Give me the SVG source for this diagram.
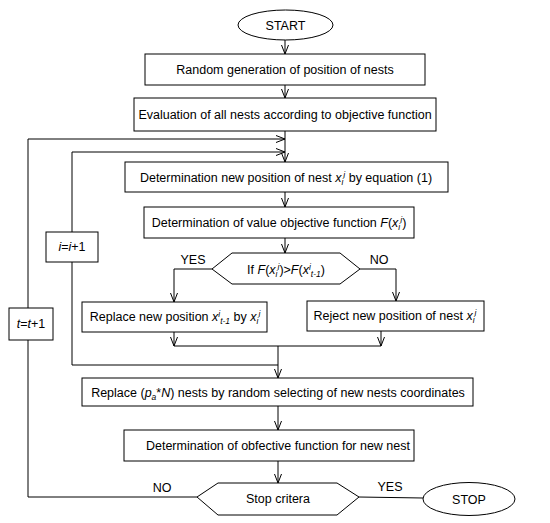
<svg xmlns="http://www.w3.org/2000/svg" width="550" height="523" viewBox="0 0 550 523">
<defs>
<marker id="ar" viewBox="0 0 10 10" refX="10" refY="5" markerWidth="10" markerHeight="10" markerUnits="userSpaceOnUse" orient="auto">
<path d="M1,1.5 L10,5 L1,8.5" fill="none" stroke="#000" stroke-width="1"/>
</marker>
</defs>
<style>
.b{fill:#fff;stroke:#000;stroke-width:1}
.c{fill:none;stroke:#000;stroke-width:1}
text{font-family:"Liberation Sans",Arial,sans-serif;font-size:12.5px;fill:#000}
.m{text-anchor:middle}
.i{font-style:italic}
.s{font-size:8.5px}
</style>
<rect width="550" height="523" fill="#fff"/>
<g id="connectors">
<line class="c" x1="285" y1="40" x2="285" y2="54" marker-end="url(#ar)"/>
<line class="c" x1="285" y1="85" x2="285" y2="98" marker-end="url(#ar)"/>
<line class="c" x1="285" y1="131" x2="285" y2="162" marker-end="url(#ar)"/>
<polyline class="c" points="197,497 28,497 28,139 285,139" marker-end="url(#ar)"/>
<polyline class="c" points="72,232 72,152 285,152" marker-end="url(#ar)"/>
<line class="c" x1="285" y1="192" x2="285" y2="207" marker-end="url(#ar)"/>
<line class="c" x1="285" y1="238" x2="285" y2="253" marker-end="url(#ar)"/>
<polyline class="c" points="212,269 174,269 174,302" marker-end="url(#ar)"/>
<polyline class="c" points="360,269 396,269 396,301" marker-end="url(#ar)"/>
<line class="c" x1="174" y1="332" x2="174" y2="346" marker-end="url(#ar)"/>
<line class="c" x1="381" y1="331" x2="381" y2="346" marker-end="url(#ar)"/>
<line class="c" x1="174" y1="346" x2="381" y2="346"/>
<polyline class="c" points="72,262 72,365 278,365"/>
<line class="c" x1="278" y1="346" x2="278" y2="378" marker-end="url(#ar)"/>
<line class="c" x1="278" y1="406" x2="278" y2="430" marker-end="url(#ar)"/>
<line class="c" x1="278" y1="461" x2="278" y2="483" marker-end="url(#ar)"/>
<line class="c" x1="359" y1="497" x2="423" y2="498"/>
<text x="193" y="264" class="m">YES</text>
<text x="379" y="264" class="m">NO</text>
<text x="162" y="492" class="m">NO</text>
<text x="390" y="491" class="m">YES</text>
</g>
<g id="start">
<ellipse class="b" cx="285.5" cy="25" rx="47.5" ry="15"/>
<text x="285.5" y="29.5" class="m">START</text>
</g>
<g id="random">
<rect class="b" x="145" y="54" width="280" height="31"/>
<text x="285" y="74" class="m">Random generation of position of nests</text>
</g>
<g id="evaluation">
<rect class="b" x="134" y="98" width="302" height="33"/>
<text x="285" y="119" class="m">Evaluation of all nests according to objective function</text>
</g>
<g id="newpos">
<rect class="b" x="125" y="162" width="323" height="30"/>
<text x="286" y="182" class="m">Determination new position of nest <tspan class="i">x</tspan><tspan class="i s" dy="3">i</tspan><tspan class="i s" dy="-7">i</tspan><tspan dy="4"> by equation (1)</tspan></text>
</g>
<g id="value">
<rect class="b" x="144" y="207" width="270" height="31"/>
<text x="279" y="227" class="m">Determination of value objective function <tspan class="i">F</tspan>(<tspan class="i">x</tspan><tspan class="i s" dy="3">i</tspan><tspan class="i s" dy="-7">i</tspan><tspan dy="4">)</tspan></text>
</g>
<g id="ifcond">
<polygon class="b" points="212,269 232,253 340,253 360,269 340,284 232,284"/>
<text x="286" y="274" class="m">If <tspan class="i">F</tspan>(<tspan class="i">x</tspan><tspan class="i s" dy="3">i</tspan><tspan class="i s" dy="-7">i</tspan><tspan dy="4">)&gt;</tspan><tspan class="i">F</tspan>(<tspan class="i">x</tspan><tspan class="i s" dy="-4">i</tspan><tspan class="i s" dy="7">t-1</tspan><tspan dy="-3">)</tspan></text>
</g>
<g id="replace">
<rect class="b" x="82" y="302" width="185" height="30"/>
<text x="175" y="321" class="m">Replace new position <tspan class="i">x</tspan><tspan class="i s" dy="-4">i</tspan><tspan class="i s" dy="7">t-1</tspan><tspan dy="-3"> by </tspan><tspan class="i">x</tspan><tspan class="i s" dy="3">i</tspan><tspan class="i s" dy="-7">i</tspan></text>
</g>
<g id="reject">
<rect class="b" x="307" y="301" width="177" height="30"/>
<text x="395" y="320" class="m">Reject new position of nest <tspan class="i">x</tspan><tspan class="i s" dy="3">i</tspan><tspan class="i s" dy="-7">i</tspan></text>
</g>
<g id="iinc">
<rect class="b" x="46" y="232" width="52" height="30"/>
<text x="72" y="251" class="m"><tspan class="i">i</tspan>=<tspan class="i">i</tspan>+1</text>
</g>
<g id="tinc">
<rect class="b" x="9" y="308" width="44" height="32"/>
<text x="31" y="328" class="m"><tspan class="i">t</tspan>=<tspan class="i">t</tspan>+1</text>
</g>
<g id="replacenests">
<rect class="b" x="82" y="378" width="391" height="28"/>
<text x="278" y="397" class="m">Replace (<tspan class="i">p</tspan><tspan class="i s" dy="3">a</tspan><tspan dy="-3">*</tspan><tspan class="i">N</tspan>) nests by random selecting of new nests coordinates</text>
</g>
<g id="newnest">
<rect class="b" x="124" y="430" width="290" height="31"/>
<text x="278" y="450" class="m">Determination of obfective function for new nest</text>
</g>
<g id="stopcrit">
<polygon class="b" points="197,497 218,483 337,483 359,497 337,515 218,515"/>
<text x="278" y="503" class="m">Stop critera</text>
</g>
<g id="stop">
<ellipse class="b" cx="469" cy="499" rx="46" ry="16.5"/>
<text x="469" y="504" class="m">STOP</text>
</g>
</svg>
